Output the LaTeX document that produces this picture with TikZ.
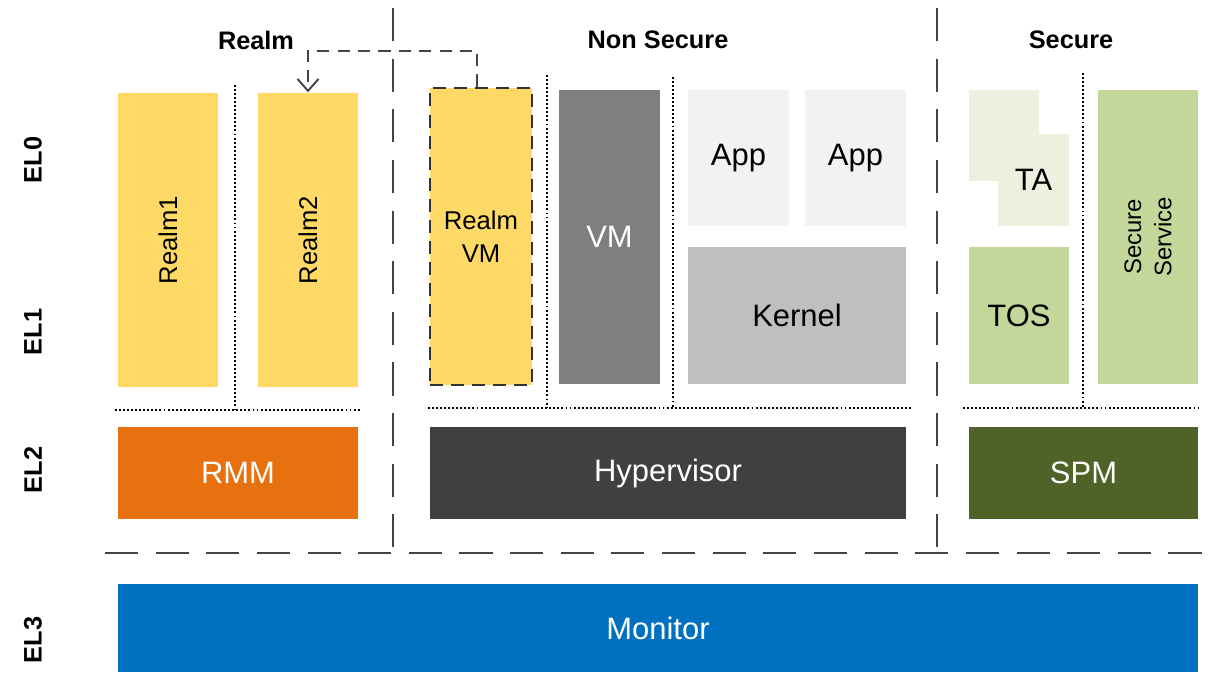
\documentclass[tikz,border=0pt]{standalone}
\usepackage{fontspec}
\setmainfont{Liberation Sans}
\usetikzlibrary{calc,arrows.meta}
\newcommand\pxu{0.01cm}
\definecolor{realmy}{HTML}{FFD966}
\definecolor{rmmor}{HTML}{E8710F}
\definecolor{vmgray}{HTML}{7F7F7F}
\definecolor{appgray}{HTML}{F2F2F2}
\definecolor{kergray}{HTML}{BFBFBF}
\definecolor{hypgray}{HTML}{404040}
\definecolor{talight}{HTML}{EBF1DE}
\definecolor{tosgreen}{HTML}{C4D79B}
\definecolor{spmgreen}{HTML}{4F6228}
\definecolor{monblue}{HTML}{0070C0}
\definecolor{sepgray}{HTML}{444444}
\tikzset{
	box/.style 2 args={inner sep=0pt, align=center, minimum width=#1*\pxu, minimum height=#2*\pxu},
	bigtxt/.style={font=\fontsize{8.8}{10.5}\selectfont},
	smalltxt/.style={font=\fontsize{7.3}{9.5}\selectfont},
	head/.style={font=\fontsize{7.2}{9}\selectfont\bfseries},
	sep/.style={draw=sepgray, line width=0.8pt, dash pattern=on 9.4pt off 5pt},
	dotline/.style={draw=black, line width=0.6pt, dash pattern=on 0.55pt off 0.6pt},
	flow/.style={draw=sepgray, line width=0.55pt, dash pattern=on 3.5pt off 2.3pt, -{Straight Barb[length=3.4pt,width=6pt]}}
}

\begin{document}
\begin{tikzpicture}[x=\pxu, y=-\pxu]
\useasboundingbox (0,0) rectangle (1212,672);
% headings
\node[head] (hrealm) at (256,40) {Realm};
\node[head] (hns) at (658,40) {Non Secure};
\node[head] (hsec) at (1071,40) {Secure};
% exception levels
\foreach \n/\y in {0/160,1/332,2/470,3/640} {
	\node[head, rotate=90] (el\n) at (33,\y) {EL\n};
}
% realm world
\node[box={294}{100}, rotate=90, fill=realmy, smalltxt] (realmA) at (168,240) {Realm1};
\node[box={294}{100}, rotate=90, fill=realmy, smalltxt] (realmB) at (308,240) {Realm2};
\node[box={240}{92}, fill=rmmor, text=white, bigtxt] (rmm) at (238,473) {RMM};
\draw[dotline] (235,85) -- (235,410);
\draw[dotline] (115,410) -- (360,410);
% non secure world
\node[box={102}{297}, fill=realmy, draw=black!80, line width=0.8pt, dash pattern=on 3.7pt off 2.3pt, smalltxt] (rvm) at (481,236.5) {Realm\\VM};
\node[box={101}{294}, fill=vmgray, text=white, bigtxt] (vm) at (609.5,237) {VM};
\node[box={101}{136}, fill=appgray, bigtxt] (appA) at (738.5,158) {App};
\node[box={101}{136}, fill=appgray, bigtxt] (appB) at (855.5,158) {App};
\node[box={218}{137}, fill=kergray, bigtxt] (kernel) at (797,315.5) {Kernel};
\node[box={476}{92}, fill=hypgray, text=white, bigtxt] (hyp) at (668,473) {Hypervisor};
\draw[dotline] (547,75) -- (547,408);
\draw[dotline] (673,77) -- (673,408);
\draw[dotline] (428,408) -- (912,408);
% secure world
\node[box={70}{91}, fill=talight] (taA) at (1004,135.5) {};
\node[box={71}{92}, fill=talight, bigtxt] (taB) at (1033.5,180) {TA};
\node[box={100}{137}, fill=tosgreen, bigtxt] (tos) at (1019,315.5) {TOS};
\node[box={294}{100}, rotate=90, fill=tosgreen, font=\fontsize{6.8}{8.6}\selectfont] (ssvc) at (1148,237) {Secure\\Service};
\node[box={229}{92}, fill=spmgreen, text=white, bigtxt] (spm) at (1083.5,473) {SPM};
\draw[dotline] (1083,73) -- (1083,408);
\draw[dotline] (963,408) -- (1198,408);
% EL3
\node[box={1080}{88}, fill=monblue, text=white, bigtxt] (mon) at (658,628) {Monitor};
% world separators
\draw[sep] (393,8) -- (393,553);
\draw[sep] (937,8) -- (937,553);
\draw[sep] (105,553) -- (1205,553);
% realm VM moves to a realm
\draw[flow] ([xshift=-4*\pxu]rvm.north) -- ++(0,-36) -| (realmB.east);
\end{tikzpicture}
\end{document}
